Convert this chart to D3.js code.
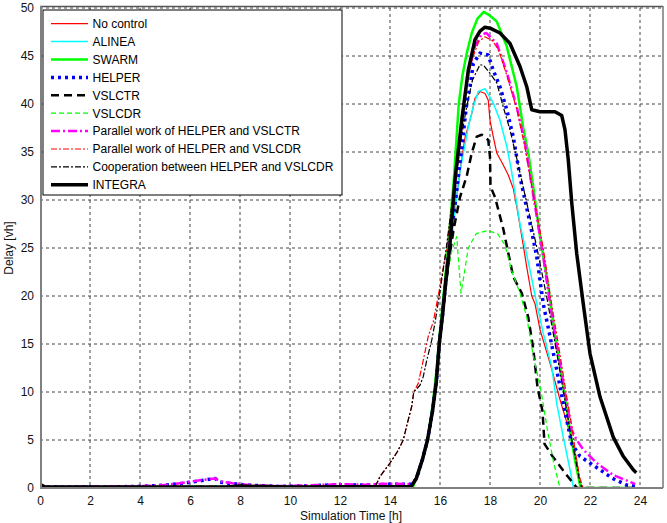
<!DOCTYPE html>
<html>
<head>
<meta charset="utf-8">
<script src="https://cdn.jsdelivr.net/npm/d3@7"></script>
<style>
  html, body { margin: 0; padding: 0; background: #fff; }
  svg { display: block; font-family: Arial, "Liberation Sans", sans-serif; }
</style>
</head>
<body>
<svg id="chart" width="667" height="523"></svg>
<script>
// ---------- data (time [h], delay [vh]) ----------
const xTicks = [0, 2, 4, 6, 8, 10, 12, 14, 16, 18, 20, 22, 24];
const yTicks = [0, 5, 10, 15, 20, 25, 30, 35, 40, 45, 50];

const noControl = [[0,0.1],[5,0.1],[10,0.1],[14.85,0.1],[15.05,1],[15.3,3],[15.5,5],[15.7,8],[15.85,11],[15.97,15],[16.1,18],[16.25,22],[16.4,25],[16.6,29],[16.8,33],[17.0,36.5],[17.27,39],[17.4,40.6],[17.6,41.3],[17.8,41.1],[17.93,40.4],[18.0,38.3],[18.13,36.6],[18.27,34.9],[18.5,33.8],[18.73,32.6],[18.93,31.2],[19.07,29.3],[19.33,25.3],[19.47,23],[19.67,20],[19.8,19.2],[20.0,16.5],[20.4,13],[20.8,9.2],[21.2,5.7],[21.47,2.9],[21.6,0.5],[21.7,0],[23.8,0]];

const alinea = [[0,0.1],[14.85,0.1],[15.05,1],[15.3,3],[15.5,5],[15.7,8],[15.85,11],[15.97,15],[16.1,18],[16.25,22],[16.4,25],[16.6,29],[16.8,33],[17.13,37.6],[17.33,39.7],[17.53,41.3],[17.8,41.6],[18.13,40.1],[18.4,38.3],[18.67,35.6],[18.85,33.2],[19.2,27.5],[19.6,22.7],[19.87,19.2],[20.13,16.1],[20.47,12.6],[20.67,8.8],[20.93,5.3],[21.2,1.9],[21.33,0.1],[21.4,0],[23.8,0]];

const swarm = [[0,0.1],[13.5,0.1],[13.6,0],[14.9,0],[15.05,1],[15.3,3],[15.5,5],[15.7,8.5],[15.85,12],[15.97,15.5],[16.1,19],[16.25,23],[16.4,27.5],[16.55,32],[16.65,36],[16.75,40],[16.9,43],[17.07,45.3],[17.27,47.4],[17.5,48.9],[17.75,49.6],[18.0,49.2],[18.27,48.6],[18.67,46],[19.07,41.8],[19.33,37.5],[19.53,34.9],[19.73,31.4],[20.0,26.2],[20.33,21],[20.6,15.8],[20.93,10.6],[21.2,6],[21.4,2.9],[21.6,0.3],[21.7,0],[23.8,0]];

const helper = [[0,0.1],[4,0.15],[5,0.3],[5.6,0.45],[6.4,0.75],[7.0,1.0],[7.2,0.6],[7.7,0.45],[8.4,0.3],[9.5,0.15],[11,0.25],[12,0.35],[13,0.3],[14,0.4],[14.85,0.4],[15.07,1],[15.3,3],[15.5,5],[15.7,8],[15.85,11],[15.97,15],[16.1,18],[16.25,22],[16.4,25.5],[16.6,29.5],[16.85,35],[17.07,40.1],[17.2,41.8],[17.33,44.2],[17.6,45.3],[17.93,45.1],[18.13,43.5],[18.4,41.8],[18.67,39.4],[18.93,36.6],[19.2,32.4],[19.6,27.6],[19.87,24.1],[20.13,19.2],[20.4,15.8],[20.67,12.3],[20.93,8.8],[21.27,4.6],[21.6,3.3],[22.0,2.6],[22.4,1.9],[22.9,1.0],[23.47,0.3],[23.8,0.2]];

const vslctr = [[0,0.1],[14.85,0.1],[15.05,1],[15.3,3],[15.5,5],[15.7,8],[15.85,11],[15.97,15],[16.1,18],[16.25,21.5],[16.4,24.5],[16.55,27],[16.8,30.3],[17.07,32.5],[17.27,34.9],[17.47,36.6],[17.67,36.8],[17.93,36.25],[18.0,34.5],[18.02,31.4],[18.2,30.3],[18.53,27],[18.93,22],[19.27,20.3],[19.53,17.8],[19.73,14.5],[19.9,10.5],[20.1,8],[20.18,4.6],[20.5,3.3],[21.05,1.4],[21.45,0.1],[21.5,0],[23.8,0]];

const vslcdr = [[0,0.1],[14.85,0.1],[15.05,1],[15.3,3],[15.5,5],[15.7,8],[15.85,11],[15.97,15],[16.1,18],[16.25,21.5],[16.45,24.5],[16.67,26.2],[16.76,23],[16.84,20.3],[16.95,22],[17.13,25],[17.45,26.5],[17.9,26.8],[18.3,26.5],[18.6,25.3],[18.87,22.6],[19.2,20.3],[19.47,17.8],[19.73,13.8],[20.05,10],[20.3,6],[20.55,2.6],[20.78,0.2],[20.85,0],[23.8,0]];

const parallelHelperVslctr = [[0,0.1],[4,0.2],[5,0.3],[5.6,0.5],[6.4,0.8],[7.0,1.0],[7.2,0.7],[7.7,0.5],[8.4,0.3],[9.5,0.2],[11,0.3],[12,0.4],[13,0.35],[14,0.45],[14.85,0.4],[15.07,1],[15.3,3],[15.5,5],[15.7,8],[15.85,11],[15.97,15],[16.1,18],[16.25,22],[16.4,26],[16.55,30],[16.75,35],[16.95,40],[17.15,43.5],[17.4,46],[17.65,47.2],[17.85,47.4],[18.27,46.3],[18.67,43.3],[19.07,39.7],[19.4,35.9],[19.7,31],[20.13,24.1],[20.4,19.2],[20.73,14],[21.07,8.8],[21.27,6],[21.47,5],[21.73,4.0],[22.27,2.6],[22.93,1.35],[23.73,0.5],[23.8,0.4]];

const parallelHelperVslcdr = [[0,0.1],[13.4,0.1],[13.6,1.2],[14.0,2.6],[14.3,3.8],[14.53,5],[14.7,6.8],[14.87,8.5],[14.95,10],[15.13,10.9],[15.33,13.3],[15.53,15.8],[15.73,17.3],[16.0,21],[16.27,25],[16.5,30],[16.7,34.5],[16.9,39],[17.1,42.5],[17.3,44.8],[17.55,46.5],[17.8,47],[18.1,46.6],[18.35,45.6],[18.67,43],[19.07,39.5],[19.4,35.5],[19.73,30.5],[20.13,25],[20.4,20.2],[20.73,15],[21.07,9.5],[21.3,6],[21.45,3],[21.6,1],[21.72,0],[23.8,0]];

const cooperation = [[0,0.1],[13.4,0.1],[13.6,1.2],[14.0,2.6],[14.3,3.8],[14.53,5],[14.7,6.8],[14.87,8.5],[14.95,10],[15.2,10.7],[15.33,11.6],[15.47,13.3],[15.67,15.4],[15.8,17.2],[16.0,20.5],[16.2,24],[16.45,29],[16.75,35],[17.05,39.5],[17.3,42.5],[17.6,44.1],[17.75,44],[18.0,43.2],[18.27,42.2],[18.53,39.7],[18.8,37.3],[19.1,34],[19.47,29.7],[19.87,25.1],[20.27,19.9],[20.6,15.1],[20.93,10.2],[21.2,6],[21.4,3.3],[21.6,0.5],[21.7,0],[23.8,0]];

const integra = [[0,0.4],[0.2,0.1],[7.5,0.1],[8,0.2],[10,0.1],[14.85,0.15],[15.05,1],[15.3,3],[15.5,5],[15.7,8],[15.85,11],[15.97,15],[16.1,18],[16.25,22],[16.4,25.5],[16.6,32.1],[16.87,38.3],[17.13,43.5],[17.4,46.7],[17.6,47.6],[17.8,48],[18.0,47.9],[18.4,47.4],[18.8,46.3],[19.2,43.9],[19.47,41.8],[19.67,39.4],[20.0,39.2],[20.6,39.2],[20.87,38.8],[21.0,37.3],[21.13,34.2],[21.27,29.7],[21.47,24.4],[21.73,19.2],[22.0,14],[22.4,9.5],[22.93,5.3],[23.33,3.3],[23.73,1.9],[23.85,1.6]];

const seriesNames = ["No control","ALINEA","SWARM","HELPER","VSLCTR","VSLCDR",
  "Parallel work of HELPER and VSLCTR","Parallel work of HELPER and VSLCDR",
  "Cooperation between HELPER and VSLCDR","INTEGRA"];
const seriesData = [noControl, alinea, swarm, helper, vslctr, vslcdr,
  parallelHelperVslctr, parallelHelperVslcdr, cooperation, integra];

// ---------- styles ----------
const styles = [
  {color:"#ff0000", width:1.2, dash:null},
  {color:"#00ffff", width:1.5, dash:null},
  {color:"#00ff00", width:2.5, dash:null},
  {color:"#0000ff", width:3.5, dash:"3,4"},
  {color:"#000000", width:2.5, dash:"8,5"},
  {color:"#00ff00", width:1.2, dash:"5,3"},
  {color:"#ff00ff", width:2.5, dash:"9,3,2,3"},
  {color:"#ff0000", width:1.2, dash:"6,2,2,2"},
  {color:"#000000", width:1.2, dash:"6,2,2,2"},
  {color:"#000000", width:3.5, dash:null}
];

const svg = d3.select("#chart");
const L = 40, T = 8, R = 663, B = 488;
const x = d3.scaleLinear().domain([0, 24.92]).range([L, R]);
const y = d3.scaleLinear().domain([0, 50]).range([B, T]);

// grid
const grid = svg.append("g");
grid.selectAll("line.vx").data(xTicks.filter(d => d > 0)).join("line")
  .attr("x1", d => x(d)).attr("x2", d => x(d)).attr("y1", T).attr("y2", B)
  .attr("stroke", "#444").attr("stroke-width", 1).attr("stroke-dasharray", "3,3");
grid.selectAll("line.hy").data(yTicks.filter(d => d > 0)).join("line")
  .attr("x1", L).attr("x2", R).attr("y1", d => y(d)).attr("y2", d => y(d))
  .attr("stroke", "#444").attr("stroke-width", 1).attr("stroke-dasharray", "3,3");

// axes (labels only)
const xAxis = d3.axisBottom(x).tickValues(xTicks).tickSize(0).tickPadding(10);
const yAxis = d3.axisLeft(y).tickValues(yTicks).tickSize(0).tickPadding(6);
const gx = svg.append("g").attr("transform", `translate(0,${B})`).call(xAxis);
const gy = svg.append("g").attr("transform", `translate(${L},0)`).call(yAxis);
[gx, gy].forEach(g => {
  g.select(".domain").remove();
  g.selectAll("line").remove();
  g.selectAll("text").attr("font-size", 12).attr("fill", "#111")
    .attr("font-family", "Arial, 'Liberation Sans', sans-serif");
});
gx.selectAll("text").attr("dy", "0.6em");

// series
const line = d3.line().x(d => x(d[0])).y(d => y(d[1]));
svg.append("clipPath").attr("id", "clip").append("rect")
  .attr("x", L).attr("y", T - 2).attr("width", R - L).attr("height", B - T + 2);
const plot = svg.append("g").attr("clip-path", "url(#clip)");
seriesData.forEach((data, i) => {
  const s = styles[i];
  plot.append("path").datum(data).attr("d", line)
    .attr("fill", "none").attr("stroke", s.color).attr("stroke-width", s.width)
    .attr("stroke-linejoin", "round")
    .attr("stroke-dasharray", s.dash);
});

// frame
svg.append("line").attr("x1", L).attr("x2", R).attr("y1", T - 1.5).attr("y2", T - 1.5)
  .attr("stroke", "#555").attr("stroke-width", 1.5);
svg.append("line").attr("x1", R).attr("x2", R).attr("y1", T - 2).attr("y2", B)
  .attr("stroke", "#777").attr("stroke-width", 1.5);
svg.append("line").attr("x1", L + 1).attr("x2", L + 1).attr("y1", T - 2).attr("y2", B + 1)
  .attr("stroke", "#808080").attr("stroke-width", 2);
svg.append("line").attr("x1", L).attr("x2", R).attr("y1", B).attr("y2", B)
  .attr("stroke", "#808080").attr("stroke-width", 2);

// axis titles
svg.append("text").attr("x", 351).attr("y", 520)
  .attr("text-anchor", "middle").attr("font-size", 12).attr("fill", "#111")
  .text("Simulation Time [h]");
svg.append("text").attr("transform", `translate(13,${(T + B) / 2}) rotate(-90)`)
  .attr("text-anchor", "middle").attr("font-size", 12).attr("fill", "#111")
  .text("Delay [vh]");

// legend
const lg = svg.append("g");
lg.append("rect").attr("x", 43).attr("y", 10).attr("width", 299).attr("height", 185)
  .attr("fill", "#fff").attr("stroke", "#000").attr("stroke-width", 1);
seriesNames.forEach((name, i) => {
  const yy = 23.7 + i * 17.9;
  const s = styles[i];
  lg.append("line").attr("x1", 51).attr("x2", 88).attr("y1", yy).attr("y2", yy)
    .attr("stroke", s.color).attr("stroke-width", s.width).attr("stroke-dasharray", s.dash);
  lg.append("text").attr("x", 92.5).attr("y", yy).attr("dy", "0.36em")
    .attr("font-size", 12).attr("fill", "#000").text(name);
});
</script>
</body>
</html>
